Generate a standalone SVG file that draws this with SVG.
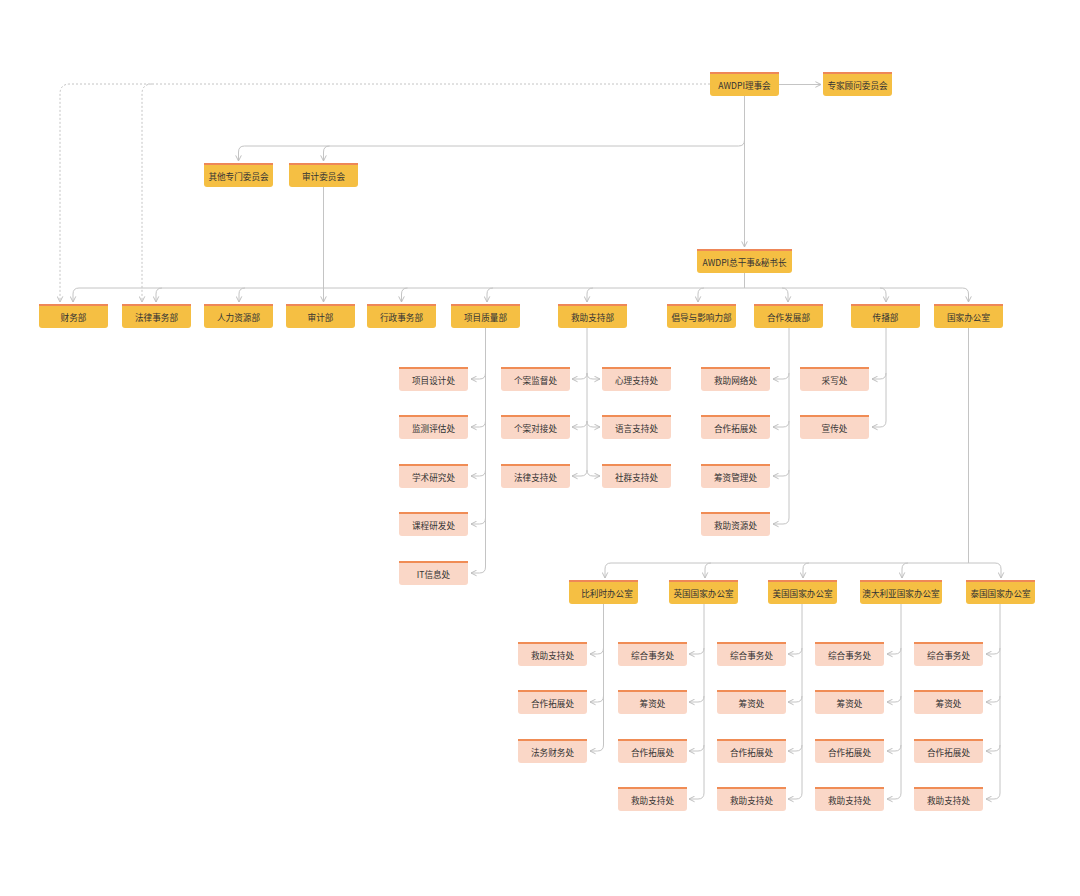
<svg xmlns="http://www.w3.org/2000/svg" xmlns:xlink="http://www.w3.org/1999/xlink" width="1080" height="896" viewBox="0 0 1080 896">
<style>
.fy{fill:#F5BF43}
.sy{fill:#EE8758}
.fp{fill:#FAD7C7}
.sp{fill:#F08C55}
.t{font-family:"Noto Sans CJK SC","Noto Sans",sans-serif;font-size:8.6px;fill:#333;text-anchor:middle;dominant-baseline:central}
.c{fill:none;stroke:#C4C4C4;stroke-width:1}
.d{fill:none;stroke:#C4C4C4;stroke-width:1;stroke-dasharray:2 2}
</style>
<defs>
<marker id="ar" viewBox="0 0 10 10" refX="9" refY="5" markerWidth="7" markerHeight="7" orient="auto" markerUnits="userSpaceOnUse">
<path d="M1,1 L9,5 L1,9" fill="none" stroke="#BDBDBD" stroke-width="1.4"/>
</marker>
<g id="ny"><path class="fy" d="M0,0H69V21Q69,24 66,24H3Q0,24 0,21Z"/><rect class="sy" width="69" height="2"/></g>
<g id="np"><path class="fp" d="M0,0H69V21Q69,24 66,24H3Q0,24 0,21Z"/><rect class="sp" width="69" height="2"/></g>
</defs>
<rect width="1080" height="896" fill="#FFFFFF"/>

<g id="connectors">
<path class="c" d="M779,84.5H821" marker-end="url(#ar)"/>
<path class="c" d="M744.5,96V247" marker-end="url(#ar)"/>
<path class="c" d="M744.5,140Q744.5,146 738.5,146H244.5Q238.5,146 238.5,152V161" marker-end="url(#ar)"/>
<path class="c" d="M329.5,146Q323.5,146 323.5,152V161" marker-end="url(#ar)"/>
<path class="d" d="M710,84H70Q60,84 60,94V302" marker-end="url(#ar)"/>
<path class="d" d="M152,84Q142,84 142,94V302" marker-end="url(#ar)"/>
<path class="c" d="M323.5,187V302" marker-end="url(#ar)"/>
<path class="c" d="M744.5,273V288M79,288H962.5"/>
<path class="c" d="M79,288Q73,288 73,294V302" marker-end="url(#ar)"/>
<path class="c" d="M162,288Q156,288 156,294V302" marker-end="url(#ar)"/>
<path class="c" d="M245,288Q239,288 239,294V302" marker-end="url(#ar)"/>
<path class="c" d="M407.5,288Q401.5,288 401.5,294V302" marker-end="url(#ar)"/>
<path class="c" d="M493,288Q487,288 487,294V302" marker-end="url(#ar)"/>
<path class="c" d="M593,288Q587,288 587,294V302" marker-end="url(#ar)"/>
<path class="c" d="M704,288Q698,288 698,294V302" marker-end="url(#ar)"/>
<path class="c" d="M782,288Q788,288 788,294V302" marker-end="url(#ar)"/>
<path class="c" d="M880,288Q886,288 886,294V302" marker-end="url(#ar)"/>
<path class="c" d="M962.5,288Q968.5,288 968.5,294V302" marker-end="url(#ar)"/>

<path class="c" d="M485.5,328V567"/>
<path class="c" d="M485.5,373Q485.5,379 479.5,379H471" marker-end="url(#ar)"/>
<path class="c" d="M485.5,421Q485.5,427 479.5,427H471" marker-end="url(#ar)"/>
<path class="c" d="M485.5,470Q485.5,476 479.5,476H471" marker-end="url(#ar)"/>
<path class="c" d="M485.5,518Q485.5,524 479.5,524H471" marker-end="url(#ar)"/>
<path class="c" d="M485.5,567Q485.5,573 479.5,573H471" marker-end="url(#ar)"/>

<path class="c" d="M587,328V470"/>
<path class="c" d="M587,373Q587,379 581,379H572" marker-end="url(#ar)"/>
<path class="c" d="M587,421Q587,427 581,427H572" marker-end="url(#ar)"/>
<path class="c" d="M587,470Q587,476 581,476H572" marker-end="url(#ar)"/>
<path class="c" d="M587,373Q587,379 593,379H600" marker-end="url(#ar)"/>
<path class="c" d="M587,421Q587,427 593,427H600" marker-end="url(#ar)"/>
<path class="c" d="M587,470Q587,476 593,476H600" marker-end="url(#ar)"/>

<path class="c" d="M789,328V518"/>
<path class="c" d="M789,373Q789,379 783,379H773" marker-end="url(#ar)"/>
<path class="c" d="M789,421Q789,427 783,427H773" marker-end="url(#ar)"/>
<path class="c" d="M789,470Q789,476 783,476H773" marker-end="url(#ar)"/>
<path class="c" d="M789,518Q789,524 783,524H773" marker-end="url(#ar)"/>

<path class="c" d="M886,328V421"/>
<path class="c" d="M886,373Q886,379 880,379H872" marker-end="url(#ar)"/>
<path class="c" d="M886,421Q886,427 880,427H872" marker-end="url(#ar)"/>

<path class="c" d="M968.5,328V563M611,563H995"/>
<path class="c" d="M611,563Q605,563 605,569V578" marker-end="url(#ar)"/>
<path class="c" d="M711,563Q705,563 705,569V578" marker-end="url(#ar)"/>
<path class="c" d="M809,563Q803,563 803,569V578" marker-end="url(#ar)"/>
<path class="c" d="M908,563Q902,563 902,569V578" marker-end="url(#ar)"/>
<path class="c" d="M995,563Q1001,563 1001,569V578" marker-end="url(#ar)"/>

<path class="c" d="M603.5,604V745"/>
<path class="c" d="M603.5,648Q603.5,654 597.5,654H590" marker-end="url(#ar)"/>
<path class="c" d="M603.5,696Q603.5,702 597.5,702H590" marker-end="url(#ar)"/>
<path class="c" d="M603.5,745Q603.5,751 597.5,751H590" marker-end="url(#ar)"/>

<path class="c" d="M704,604V793"/>
<path class="c" d="M704,648Q704,654 698,654H689" marker-end="url(#ar)"/>
<path class="c" d="M704,696Q704,702 698,702H689" marker-end="url(#ar)"/>
<path class="c" d="M704,745Q704,751 698,751H689" marker-end="url(#ar)"/>
<path class="c" d="M704,793Q704,799 698,799H689" marker-end="url(#ar)"/>

<path class="c" d="M802,604V793"/>
<path class="c" d="M802,648Q802,654 796,654H788" marker-end="url(#ar)"/>
<path class="c" d="M802,696Q802,702 796,702H788" marker-end="url(#ar)"/>
<path class="c" d="M802,745Q802,751 796,751H788" marker-end="url(#ar)"/>
<path class="c" d="M802,793Q802,799 796,799H788" marker-end="url(#ar)"/>

<path class="c" d="M901,604V793"/>
<path class="c" d="M901,648Q901,654 895,654H887" marker-end="url(#ar)"/>
<path class="c" d="M901,696Q901,702 895,702H887" marker-end="url(#ar)"/>
<path class="c" d="M901,745Q901,751 895,751H887" marker-end="url(#ar)"/>
<path class="c" d="M901,793Q901,799 895,799H887" marker-end="url(#ar)"/>

<path class="c" d="M1000,604V793"/>
<path class="c" d="M1000,648Q1000,654 994,654H986" marker-end="url(#ar)"/>
<path class="c" d="M1000,696Q1000,702 994,702H986" marker-end="url(#ar)"/>
<path class="c" d="M1000,745Q1000,751 994,751H986" marker-end="url(#ar)"/>
<path class="c" d="M1000,793Q1000,799 994,799H986" marker-end="url(#ar)"/>
</g>

<g id="n-board"><use href="#ny" x="710" y="72"/><text class="t" x="744.5" y="85">AWDPI理事会</text></g>
<g id="n-expert"><use href="#ny" x="823" y="72"/><text class="t" x="857.5" y="85">专家顾问委员会</text></g>
<g id="n-othercom"><use href="#ny" x="204" y="163"/><text class="t" x="238.5" y="176">其他专门委员会</text></g>
<g id="n-auditcom"><use href="#ny" x="289" y="163"/><text class="t" x="323.5" y="176">审计委员会</text></g>
<g id="n-dg"><path class="fy" d="M697,249H792V270Q792,273 789,273H700Q697,273 697,270Z"/><rect class="sy" x="697" y="249" width="95" height="2"/><text class="t" x="744.5" y="262">AWDPI总干事&amp;秘书长</text></g>

<g id="n-finance"><use href="#ny" x="39" y="304"/><text class="t" x="73.5" y="317">财务部</text></g>
<g id="n-legal"><use href="#ny" x="122" y="304"/><text class="t" x="156.5" y="317">法律事务部</text></g>
<g id="n-hr"><use href="#ny" x="204" y="304"/><text class="t" x="238.5" y="317">人力资源部</text></g>
<g id="n-audit"><use href="#ny" x="286" y="304"/><text class="t" x="320.5" y="317">审计部</text></g>
<g id="n-admin"><use href="#ny" x="367" y="304"/><text class="t" x="401.5" y="317">行政事务部</text></g>
<g id="n-quality"><use href="#ny" x="451" y="304"/><text class="t" x="485.5" y="317">项目质量部</text></g>
<g id="n-rescue"><use href="#ny" x="558" y="304"/><text class="t" x="592.5" y="317">救助支持部</text></g>
<g id="n-advocacy"><use href="#ny" x="667" y="304"/><text class="t" x="701.5" y="317">倡导与影响力部</text></g>
<g id="n-coop"><use href="#ny" x="754" y="304"/><text class="t" x="788.5" y="317">合作发展部</text></g>
<g id="n-comm"><use href="#ny" x="851" y="304"/><text class="t" x="885.5" y="317">传播部</text></g>
<g id="n-country"><use href="#ny" x="934" y="304"/><text class="t" x="968.5" y="317">国家办公室</text></g>

<g id="q1"><use href="#np" x="399" y="367"/><text class="t" x="433.5" y="380">项目设计处</text></g>
<g id="q2"><use href="#np" x="399" y="415"/><text class="t" x="433.5" y="428">监测评估处</text></g>
<g id="q3"><use href="#np" x="399" y="464"/><text class="t" x="433.5" y="477">学术研究处</text></g>
<g id="q4"><use href="#np" x="399" y="512"/><text class="t" x="433.5" y="525">课程研发处</text></g>
<g id="q5"><use href="#np" x="399" y="561"/><text class="t" x="433.5" y="574">IT信息处</text></g>

<g id="r1"><use href="#np" x="501" y="367"/><text class="t" x="535.5" y="380">个案监督处</text></g>
<g id="r2"><use href="#np" x="501" y="415"/><text class="t" x="535.5" y="428">个案对接处</text></g>
<g id="r3"><use href="#np" x="501" y="464"/><text class="t" x="535.5" y="477">法律支持处</text></g>
<g id="r4"><use href="#np" x="602" y="367"/><text class="t" x="636.5" y="380">心理支持处</text></g>
<g id="r5"><use href="#np" x="602" y="415"/><text class="t" x="636.5" y="428">语言支持处</text></g>
<g id="r6"><use href="#np" x="602" y="464"/><text class="t" x="636.5" y="477">社群支持处</text></g>

<g id="c1"><use href="#np" x="701" y="367"/><text class="t" x="735.5" y="380">救助网络处</text></g>
<g id="c2"><use href="#np" x="701" y="415"/><text class="t" x="735.5" y="428">合作拓展处</text></g>
<g id="c3"><use href="#np" x="701" y="464"/><text class="t" x="735.5" y="477">筹资管理处</text></g>
<g id="c4"><use href="#np" x="701" y="512"/><text class="t" x="735.5" y="525">救助资源处</text></g>

<g id="m1"><use href="#np" x="800" y="367"/><text class="t" x="834.5" y="380">采写处</text></g>
<g id="m2"><use href="#np" x="800" y="415"/><text class="t" x="834.5" y="428">宣传处</text></g>

<g id="o-be"><use href="#ny" x="569" y="580"/><text class="t" x="607" y="593">比利时办公室</text></g>
<g id="o-uk"><use href="#ny" x="669" y="580"/><text class="t" x="703.5" y="593">英国国家办公室</text></g>
<g id="o-us"><use href="#ny" x="768" y="580"/><text class="t" x="802.5" y="593">美国国家办公室</text></g>
<g id="o-au"><path class="fy" d="M860,580H942V601Q942,604 939,604H863Q860,604 860,601Z"/><rect class="sy" x="860" y="580" width="82" height="2"/><text class="t" x="901" y="593">澳大利亚国家办公室</text></g>
<g id="o-th"><use href="#ny" x="966" y="580"/><text class="t" x="1000.5" y="593">泰国国家办公室</text></g>

<g id="be1"><use href="#np" x="518" y="642"/><text class="t" x="552.5" y="655">救助支持处</text></g>
<g id="be2"><use href="#np" x="518" y="690"/><text class="t" x="552.5" y="703">合作拓展处</text></g>
<g id="be3"><use href="#np" x="518" y="739"/><text class="t" x="552.5" y="752">法务财务处</text></g>

<g id="uk1"><use href="#np" x="618" y="642"/><text class="t" x="652.5" y="655">综合事务处</text></g>
<g id="uk2"><use href="#np" x="618" y="690"/><text class="t" x="652.5" y="703">筹资处</text></g>
<g id="uk3"><use href="#np" x="618" y="739"/><text class="t" x="652.5" y="752">合作拓展处</text></g>
<g id="uk4"><use href="#np" x="618" y="787"/><text class="t" x="652.5" y="800">救助支持处</text></g>

<g id="us1"><use href="#np" x="717" y="642"/><text class="t" x="751.5" y="655">综合事务处</text></g>
<g id="us2"><use href="#np" x="717" y="690"/><text class="t" x="751.5" y="703">筹资处</text></g>
<g id="us3"><use href="#np" x="717" y="739"/><text class="t" x="751.5" y="752">合作拓展处</text></g>
<g id="us4"><use href="#np" x="717" y="787"/><text class="t" x="751.5" y="800">救助支持处</text></g>

<g id="au1"><use href="#np" x="815" y="642"/><text class="t" x="849.5" y="655">综合事务处</text></g>
<g id="au2"><use href="#np" x="815" y="690"/><text class="t" x="849.5" y="703">筹资处</text></g>
<g id="au3"><use href="#np" x="815" y="739"/><text class="t" x="849.5" y="752">合作拓展处</text></g>
<g id="au4"><use href="#np" x="815" y="787"/><text class="t" x="849.5" y="800">救助支持处</text></g>

<g id="th1"><use href="#np" x="914" y="642"/><text class="t" x="948.5" y="655">综合事务处</text></g>
<g id="th2"><use href="#np" x="914" y="690"/><text class="t" x="948.5" y="703">筹资处</text></g>
<g id="th3"><use href="#np" x="914" y="739"/><text class="t" x="948.5" y="752">合作拓展处</text></g>
<g id="th4"><use href="#np" x="914" y="787"/><text class="t" x="948.5" y="800">救助支持处</text></g>
</svg>
